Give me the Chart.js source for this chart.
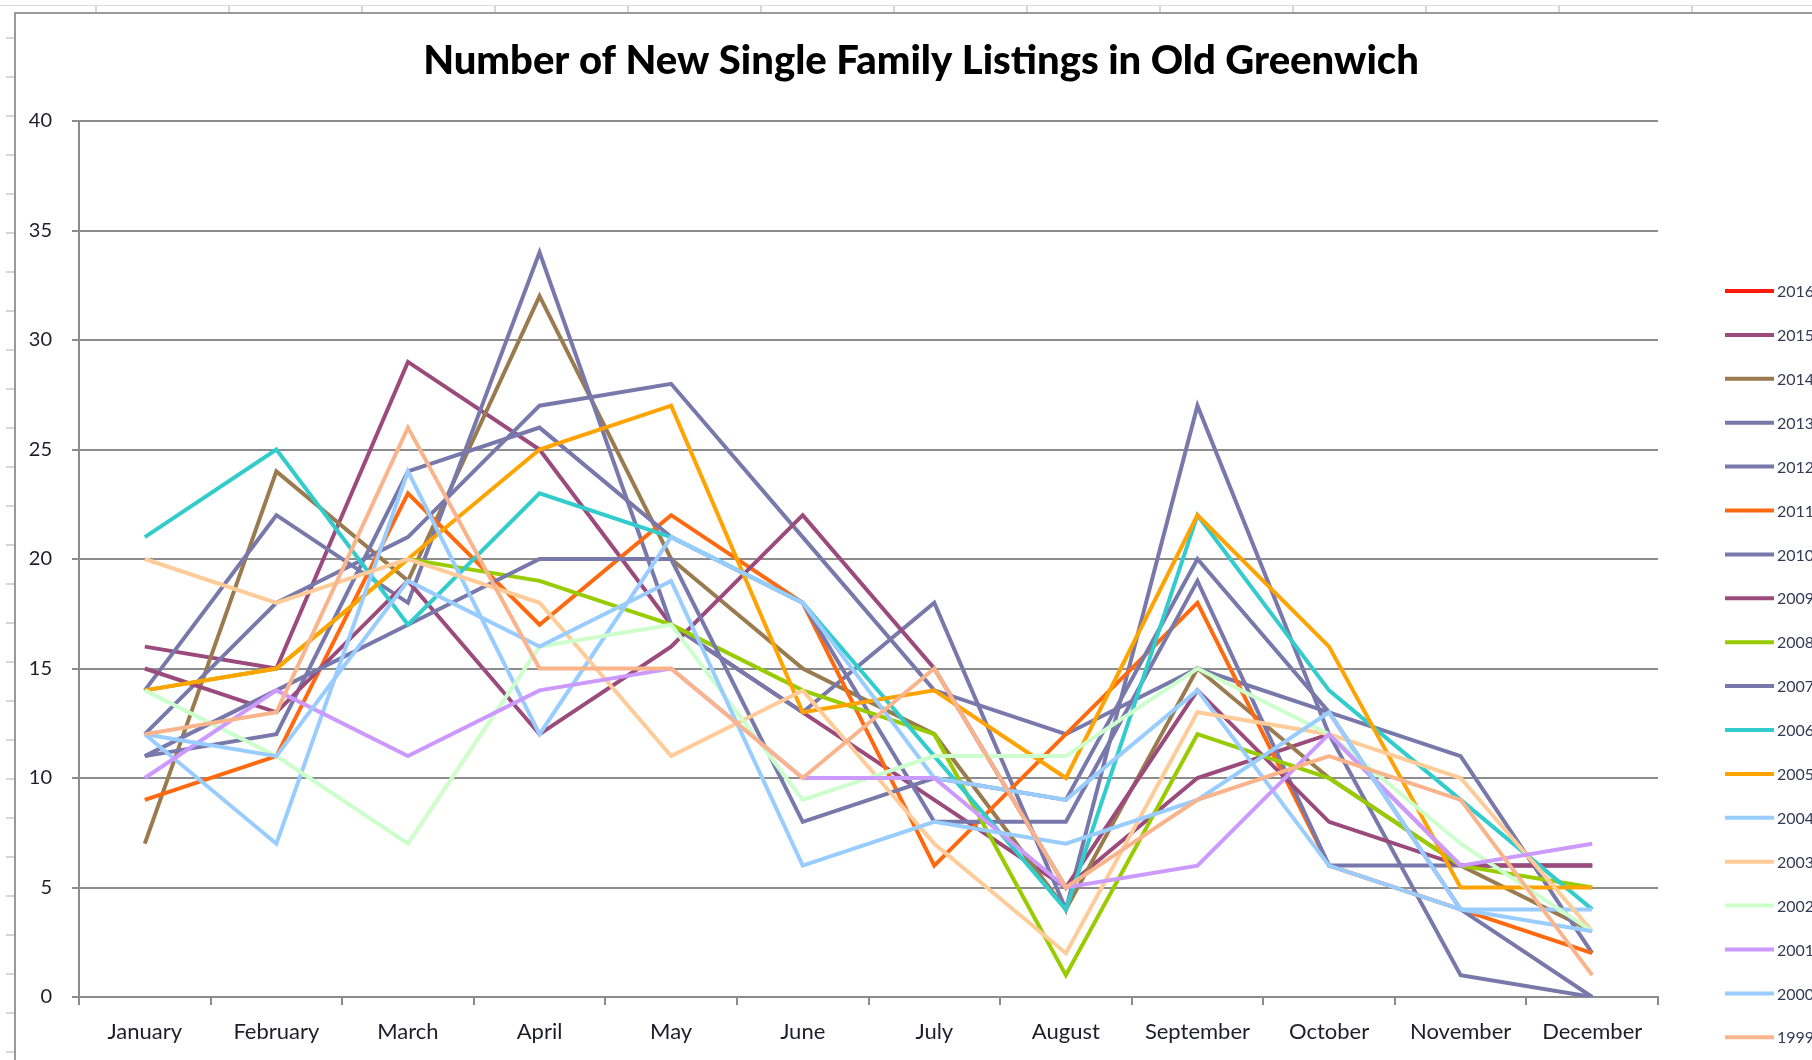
<!DOCTYPE html>
<html>
<head>
<meta charset="utf-8">
<script src="https://cdn.jsdelivr.net/npm/chart.js@4"></script>
<style>
  html, body { margin: 0; padding: 0; width: 1812px; height: 1060px; overflow: hidden; background: #fff; }
  /* spreadsheet cells peeking out behind the chart object */
  #sheetTop { position: absolute; left: 0; top: 5px; width: 1812px; height: 8px;
    border-top: 1px solid #dcdcdc; box-sizing: border-box;
    background: repeating-linear-gradient(to right, transparent 0 95px, #d6d6d6 95px 97px, transparent 97px 133px); }
  #sheetLeft { position: absolute; left: 6px; top: 0; width: 8px; height: 1060px;
    background: repeating-linear-gradient(to bottom, transparent 0 37px, #d6d6d6 37px 39px, transparent 39px 32px); }
  #frame { position: absolute; left: 14px; top: 12px; width: 1830px; height: 1046px;
    border-left: 2px solid #9a9a9a; border-top: 2px solid #9a9a9a; border-bottom: 1px solid #dedede; background: #fff; }
  #wrap { position: absolute; left: 15px; top: 13px; width: 1812px; height: 1047px; }
</style>
</head>
<body>
<div id="sheetTop"></div>
<div id="sheetLeft"></div>
<div id="frame"></div>
<div id="wrap"><canvas id="myChart" width="1812" height="1047"></canvas></div>
<script>
var months = ['January', 'February', 'March', 'April', 'May', 'June', 'July', 'August', 'September', 'October', 'November', 'December'];
var years = ['2016', '2015', '2014', '2013', '2012', '2011', '2010', '2009', '2008', '2007', '2006', '2005', '2004', '2003', '2002', '2001', '2000', '1999'];

var y2016 = [null, null, null, null, null, null, null, null, null, null, null, null];
var y2015 = [16, 15, 29, 25, 17, 13, 9, 5, 10, 12, 6, 6];
var y2014 = [7, 24, 19, 32, 20, 15, 12, 4, 15, 10, 6, 3];
var y2013 = [14, 22, 18, 34, 17, 13, 18, 4, 27, 12, 1, 0];
var y2012 = [12, 18, 21, 27, 28, 21, 14, 12, 15, 13, 11, 2];
var y2011 = [9, 11, 23, 17, 22, 18, 6, 12, 18, 6, 4, 2];
var y2010 = [11, 12, 24, 26, 21, 18, 8, 8, 19, 6, 6, 6];
var y2009 = [15, 13, 19, 12, 16, 22, 15, 5, 14, 8, 6, 6];
var y2008 = [14, 15, 20, 19, 17, 14, 12, 1, 12, 10, 6, 5];
var y2007 = [11, 14, 17, 20, 20, 8, 10, 9, 20, 13, 4, 0];
var y2006 = [21, 25, 17, 23, 21, 18, 11, 4, 22, 14, 9, 4];
var y2005 = [14, 15, 20, 25, 27, 13, 14, 10, 22, 16, 5, 5];
var y2004 = [12, 7, 24, 12, 21, 18, 10, 9, 14, 6, 4, 4];
var y2003 = [20, 18, 20, 18, 11, 14, 7, 2, 13, 12, 10, 3];
var y2002 = [14, 11, 7, 16, 17, 9, 11, 11, 15, 12, 7, 3];
var y2001 = [10, 14, 11, 14, 15, 10, 10, 5, 6, 12, 6, 7];
var y2000 = [12, 11, 19, 16, 19, 6, 8, 7, 9, 13, 4, 3];
var y1999 = [12, 13, 26, 15, 15, 10, 15, 5, 9, 11, 9, 1];

var yTicks = [0, 5, 10, 15, 20, 25, 30, 35, 40];

var series = [y2016, y2015, y2014, y2013, y2012, y2011, y2010, y2009, y2008, y2007,
              y2006, y2005, y2004, y2003, y2002, y2001, y2000, y1999];
var colors = ['#ff1a0a', '#9b4a7c', '#9a7b4f', '#7878ab', '#7878ab', '#ff6a10', '#7878ab', '#9b4a7c', '#99cc00', '#7878ab',
              '#33cccc', '#ffa300', '#99ccff', '#ffcc99', '#ccffcc', '#cc99ff', '#99ccff', '#f9b48c'];

var datasets = [];
for (var i = 0; i < years.length; i++) {
    datasets.push({
        label: years[i],
        data: series[i],
        borderColor: colors[i],
        backgroundColor: colors[i],
        borderWidth: 4,
        pointRadius: 0,
        tension: 0,
        fill: false,
        order: years.length - 1 - i
    });
}

// title and the legend column on the right, drawn like the excel chart
var excelBits = {
    id: 'excelBits',
    afterDraw: function (chart) {
        var c = chart.ctx;
        c.save();
        c.fillStyle = '#000';
        c.font = '900 40px Lato';
        c.textAlign = 'center';
        c.textBaseline = 'middle';
        c.fillText('Number of New Single Family Listings in Old Greenwich', 906, 48);

        c.font = '16px Lato';
        c.textAlign = 'left';
        for (var i = 0; i < chart.data.datasets.length; i++) {
            var ds = chart.data.datasets[i];
            var y = 278 + i * 43.9;
            c.strokeStyle = ds.borderColor;
            c.lineWidth = 4;
            c.beginPath();
            c.moveTo(1710, y);
            c.lineTo(1759, y);
            c.stroke();
            c.fillStyle = '#333a55';
            c.fillText(ds.label, 1762, y + 1);
        }
        c.restore();
    }
};

var ctx = document.getElementById('myChart').getContext('2d');
var myChart = new Chart(ctx, {
    type: 'line',
    data: {
        labels: months,
        datasets: datasets
    },
    options: {
        responsive: false,
        animation: false,
        layout: { padding: { left: 0, top: 108, right: 169, bottom: 0 } },
        plugins: {
            legend: { display: false },
            title: { display: false },
            tooltip: { enabled: false }
        },
        scales: {
            x: {
                offset: true,
                grid: { offset: true, drawOnChartArea: false, color: '#8c8c8c', lineWidth: 2, tickLength: 8 },
                border: { color: '#8c8c8c', width: 2 },
                ticks: { color: '#1e1e2a', font: { family: 'Lato', size: 22 }, padding: 14, maxRotation: 0 },
                afterFit: function (s) { s.height = 63; }
            },
            y: {
                min: 0,
                max: 40,
                afterBuildTicks: function (s) { s.ticks = yTicks.map(function (v) { return { value: v }; }); },
                grid: { color: '#8c8c8c', lineWidth: 2, tickLength: 7 },
                border: { color: '#8c8c8c', width: 2 },
                ticks: { color: '#1e1e2a', font: { family: 'Lato', size: 20 }, padding: 20 },
                afterFit: function (s) { s.width = 64; }
            }
        }
    },
    plugins: [excelBits]
});
</script>
</body>
</html>
